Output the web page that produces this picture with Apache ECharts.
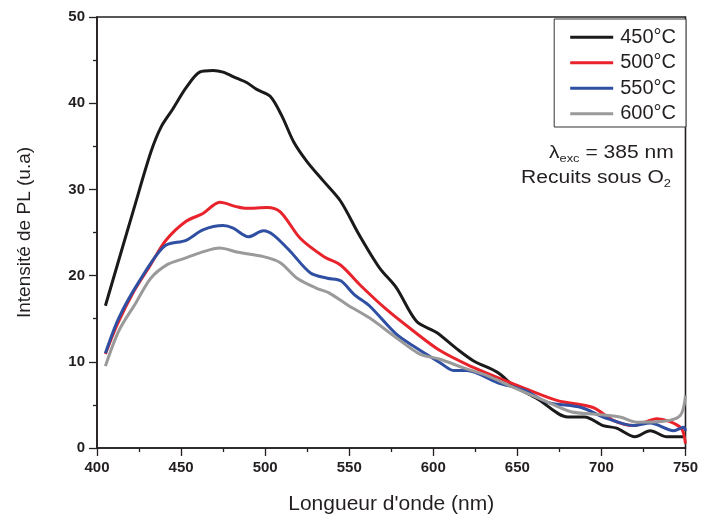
<!DOCTYPE html>
<html>
<head>
<meta charset="utf-8">
<script src="https://cdn.jsdelivr.net/npm/echarts@6/dist/echarts.min.js"></script>
<style>html,body{margin:0;padding:0;background:#fff;}#c{width:701px;height:520px;}</style>
</head>
<body>
<div id="c"></div>
<script>
var seriesNames = ['450°C', '500°C', '550°C', '600°C'];
var xTickLabels = [400, 450, 500, 550, 600, 650, 700, 750];
var yTickLabels = [0, 10, 20, 30, 40, 50];

var x450 = [405, 422, 432, 438, 445, 453, 461, 469, 475, 483, 489, 495, 503, 510, 517, 525, 535, 545, 556, 568, 578, 590, 602, 614, 624, 638, 648, 662, 680, 690, 701, 709, 720, 729, 739, 749];
var y450 = [16.5, 27.8, 34.3, 37.2, 39.3, 41.8, 43.6, 43.8, 43.6, 42.9, 42.4, 41.6, 40.8, 38.5, 35.5, 33.2, 30.9, 28.6, 24.7, 20.9, 18.6, 14.7, 13.4, 11.5, 10.1, 8.8, 7.2, 5.7, 3.6, 3.6, 2.6, 2.3, 1.3, 2.0, 1.3, 1.3];

var x500 = [405, 412, 422, 432, 441, 453, 463, 473, 483, 489, 501, 509, 521, 535, 545, 556, 572, 588, 604, 622, 638, 656, 674, 695, 707, 719, 733, 747, 750];
var y500 = [10.9, 14.3, 18.2, 21.3, 24.1, 26.3, 27.2, 28.5, 28.0, 27.8, 27.9, 27.4, 24.3, 22.2, 21.2, 19.0, 16.1, 13.6, 11.3, 9.5, 8.2, 6.8, 5.5, 4.7, 3.2, 2.6, 3.4, 2.4, 0.5];

var x550 = [405, 413, 425, 440, 453, 463, 475, 481, 490, 499, 505, 515, 527, 537, 545, 553, 562, 578, 590, 604, 612, 620, 638, 654, 668, 688, 701, 719, 729, 743, 749, 750];
var y550 = [11.0, 15.1, 19.3, 23.4, 24.1, 25.3, 25.8, 25.5, 24.5, 25.2, 24.7, 22.8, 20.3, 19.7, 19.4, 17.8, 16.5, 13.2, 11.6, 9.9, 9.0, 9.0, 7.6, 6.7, 5.3, 4.7, 3.6, 2.6, 2.9, 2.0, 2.4, 2.0];

var x600 = [405, 413, 423, 432, 442, 452, 462, 473, 484, 499, 509, 519, 531, 538, 549, 562, 578, 592, 604, 618, 632, 648, 666, 682, 697, 711, 721, 737, 747, 750];
var y600 = [9.5, 13.6, 16.8, 19.7, 21.3, 22.0, 22.7, 23.2, 22.7, 22.2, 21.5, 19.7, 18.5, 18.0, 16.6, 15.1, 12.8, 10.9, 10.3, 9.3, 8.4, 7.0, 5.5, 4.2, 3.9, 3.6, 3.0, 3.1, 3.8, 6.1];

var colors = ['#1a1a1a', '#e8232b', '#2f4fa2', '#9a9a9a'];
var FONT = 'Liberation Sans, Arial, sans-serif';

function pairs(xs, ys) { return xs.map(function (x, i) { return [x, ys[i]]; }); }
var allX = [x450, x500, x550, x600];
var allY = [y450, y500, y550, y600];

var chart = echarts.init(document.getElementById('c'), null, {renderer: 'canvas'});
var axisColor = '#231f20';
var subRich = {s: {fontSize: 11, fontFamily: FONT, padding: [10, 0, 0, 0], fill: axisColor}};
chart.setOption({
  animation: false,
  backgroundColor: '#fff',
  grid: {left: 97, right: 15, top: 17, bottom: 69, show: true, borderColor: axisColor, borderWidth: 1.6, backgroundColor: 'transparent'},
  xAxis: {
    type: 'value', min: 400, max: 750, interval: 50,
    name: "Longueur d'onde (nm)", nameLocation: 'middle', nameGap: 46,
    nameTextStyle: {fontFamily: FONT, fontSize: 21, color: axisColor},
    axisLine: {show: true, onZero: false, lineStyle: {color: axisColor, width: 1.6}},
    axisTick: {show: true, inside: false, length: 8, lineStyle: {color: axisColor, width: 1.3}},
    minorTick: {show: true, splitNumber: 2, length: 4, lineStyle: {color: axisColor, width: 1.3}},
    splitLine: {show: false},
    axisLabel: {fontFamily: FONT, fontSize: 15, fontWeight: 'bold', color: axisColor, margin: 12,
      formatter: function (v) { return xTickLabels.indexOf(v) >= 0 ? String(v) : ''; }}
  },
  yAxis: {
    type: 'value', min: 0, max: 50, interval: 10,
    name: 'Intensité de PL (u.a)', nameLocation: 'middle', nameGap: 63, nameRotate: 90,
    nameTextStyle: {fontFamily: FONT, fontSize: 19, color: axisColor},
    axisLine: {show: true, lineStyle: {color: axisColor, width: 1.6}},
    axisTick: {show: true, inside: false, length: 8, lineStyle: {color: axisColor, width: 1.3}},
    minorTick: {show: true, splitNumber: 2, length: 4, lineStyle: {color: axisColor, width: 1.3}},
    splitLine: {show: false},
    axisLabel: {fontFamily: FONT, fontSize: 15, fontWeight: 'bold', color: axisColor, margin: 12,
      formatter: function (v) { return yTickLabels.indexOf(v) >= 0 ? String(v) : ''; }}
  },
  legend: {
    orient: 'vertical', right: 15, top: 19,
    data: seriesNames,
    icon: 'rect', itemWidth: 43, itemHeight: 3, itemGap: 5,
    padding: [8, 10, 3, 16],
    borderColor: '#333', borderWidth: 1, backgroundColor: '#fff',
    textStyle: {fontFamily: FONT, fontSize: 20, lineHeight: 20.5, color: axisColor, padding: [0, 0, 0, 2]}
  },
  graphic: [
    {type: 'text', x: 549, y: 143, scaleX: 1.17, style: {
      text: 'λ{s|exc} = 385 nm', font: '18px ' + FONT, fill: axisColor, align: 'left', verticalAlign: 'top',
      rich: subRich}},
    {type: 'text', x: 521, y: 168, scaleX: 1.17, style: {
      text: 'Recuits sous O{s|2}', font: '18px ' + FONT, fill: axisColor, align: 'left', verticalAlign: 'top',
      rich: subRich}}
  ],
  series: seriesNames.map(function (n, i) {
    return {
      name: n, type: 'line', data: pairs(allX[i], allY[i]),
      showSymbol: false, symbol: 'none', smooth: 0.3,
      lineStyle: {color: colors[i], width: 3},
      itemStyle: {color: colors[i]}
    };
  })
});
</script>
</body>
</html>
